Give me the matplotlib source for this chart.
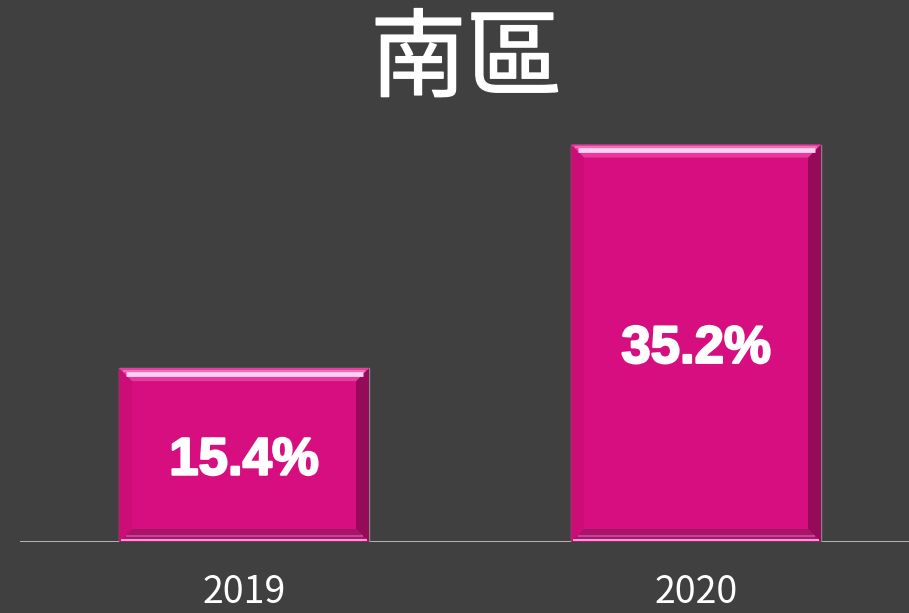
import matplotlib
matplotlib.use('Agg')
import matplotlib.pyplot as plt
import matplotlib.patheffects as pe
import numpy as np
from matplotlib.patches import Polygon

plt.rcParams['font.family'] = ['Noto Sans CJK TC', 'DejaVu Sans']

title = '南區'
years = ['2019', '2020']
values = [15.4, 35.2]

bg = '#404040'
bar_col = '#d60e7f'

fig = plt.figure(figsize=(9.09, 6.13), dpi=100, facecolor=bg)
ax = fig.add_axes([0.022, 0.1158, 0.978, 0.8842], facecolor=bg)

x = np.arange(len(years))
bars = ax.bar(x, values, width=0.553, color=bar_col, edgecolor='#8a8a8a',
              linewidth=1.0, zorder=2)

ax.set_xlim(-0.4956, 1.471)
ax.set_ylim(0, 48)

# bevel edges, inset given in pixels and turned into data units
p0 = ax.transData.transform((0, 0))
p1 = ax.transData.transform((1, 1))
bpx = 13
dx = bpx / (p1[0] - p0[0])
dy = bpx / (p1[1] - p0[1])
for b in bars:
    x0, w, h = b.get_x(), b.get_width(), b.get_height()
    x1 = x0 + w
    top = [(x0, h), (x1, h), (x1 - dx, h - dy), (x0 + dx, h - dy)]
    bot = [(x0, 0), (x1, 0), (x1 - dx, dy), (x0 + dx, dy)]
    lft = [(x0, 0), (x0, h), (x0 + dx, h - dy), (x0 + dx, dy)]
    rgt = [(x1, 0), (x1, h), (x1 - dx, h - dy), (x1 - dx, dy)]
    ax.add_patch(Polygon(lft, closed=True, color='#cc0d78', lw=0, zorder=3))
    ax.add_patch(Polygon(rgt, closed=True, color='#960a5a', lw=0, zorder=3))
    ax.add_patch(Polygon(bot, closed=True, color='#a8146a', lw=0, zorder=3))
    ax.add_patch(Polygon(top, closed=True, color='#e83a9e', lw=0, zorder=3))
    # highlight stripe across the top bevel
    ax.plot([x0 + dx * 0.5, x1 - dx * 0.5], [h - dy * 0.45] * 2,
            color='#ffd0f0', lw=3.5, solid_capstyle='butt', zorder=4)
    ax.plot([x0 + dx * 0.3, x1 - dx * 0.3], [h - dy * 0.2] * 2,
            color='#f46cbc', lw=1.5, solid_capstyle='butt', zorder=4)
    # light lines on the bottom bevel
    ax.plot([x0 + dx * 0.5, x1 - dx * 0.5], [dy * 0.5] * 2,
            color='#d04c98', lw=1.2, solid_capstyle='butt', zorder=4)
    ax.plot([x0 + dx * 0.15, x1 - dx * 0.15], [dy * 0.12] * 2,
            color='#f0a0d0', lw=1.5, solid_capstyle='butt', zorder=4)
    ax.annotate(f'{h:.1f}%', (b.get_x() + w / 2, h / 2), xytext=(0, -4),
                textcoords='offset points', ha='center', va='center',
                color='white', fontsize=38, fontweight='bold',
                family=['Liberation Sans', 'DejaVu Sans'], zorder=5,
                path_effects=[pe.withStroke(linewidth=1.6, foreground='white')])

ax.axhline(0, color='#c0c0c0', lw=2, zorder=1)

ax.set_xticks(x)
ax.set_xticklabels(years, color='white', fontsize=27)
ax.tick_params(axis='x', length=0, pad=22)
ax.set_yticks([])
for s in ax.spines.values():
    s.set_visible(False)

fig.text(0.513, 0.9, title, ha='center', va='center', color='white',
         fontsize=69,
         path_effects=[pe.withStroke(linewidth=1.0, foreground='white')])

fig.savefig('out.png', dpi=100, facecolor=bg)
